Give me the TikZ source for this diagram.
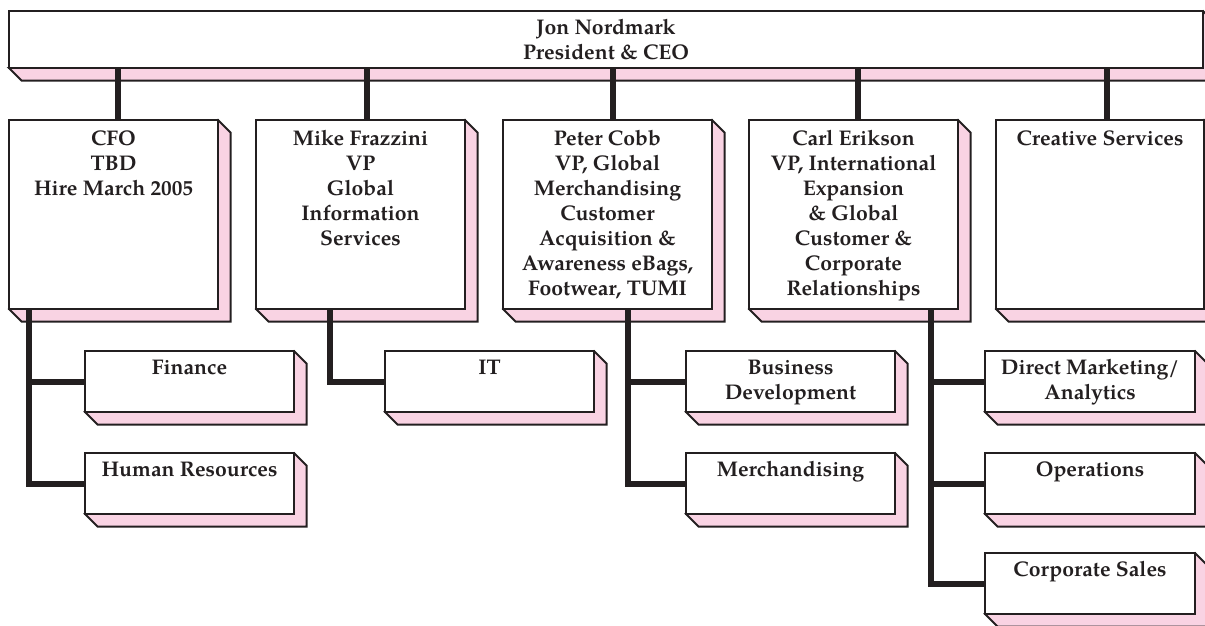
\documentclass[tikz,border=0pt]{standalone}
\usepackage{fontspec}
\setmainfont{texgyrepagella}[Extension=.otf, UprightFont=*-regular, BoldFont=*-bold, ItalicFont=*-italic, BoldItalicFont=*-bolditalic]
\usetikzlibrary{backgrounds,calc}
\definecolor{shpink}{RGB}{249,211,227}
\definecolor{ink}{RGB}{35,31,32}
\tikzset{
  orgbox/.style={draw=ink, fill=white, line width=1.5pt, inner sep=0pt, outer sep=0pt, anchor=north west, rectangle},
  lvtwo/.style={orgbox, minimum width=156.75pt, minimum height=141.75pt},
  lvthree/.style={orgbox, minimum width=156.75pt, minimum height=45.75pt},
  txt/.style={anchor=north, inner sep=0pt, outer sep=0pt, align=center, text=ink, font=\bfseries\fontsize{15.9}{18.75}\selectfont},
  conn/.style={draw=ink, line width=4.5pt, line join=miter},
  shadowpoly/.style={fill=shpink, draw=ink, line width=1.5pt, line join=miter}
}
\newcommand{\fa}{\rule{0pt}{18.75pt}}
\newcommand{\fb}{\rule{0pt}{17.25pt}}
\begin{document}
\begin{tikzpicture}[x=0.75pt,y=-0.75pt]
\useasboundingbox (0,0) rectangle (1205,625);
\clip (0,0) rectangle (1205,625);
% boxes
\node[orgbox, minimum width=895.5pt, minimum height=42.75pt] (top) at (9,11) {};
\node[lvtwo] (cfo) at (9,120) {};
\node[lvtwo] (mike) at (256,120) {};
\node[lvtwo] (peter) at (503,120) {};
\node[lvtwo] (carl) at (749,120) {};
\node[lvtwo, minimum width=156pt] (crea) at (996,120) {};
\node[lvthree] (fin) at (85,351) {};
\node[lvthree] (hr) at (85,453) {};
\node[lvthree] (it) at (385,351) {};
\node[lvthree] (bd) at (686,351) {};
\node[lvthree] (mer) at (686,453) {};
\node[lvthree, minimum width=157.5pt] (dm) at (985,351) {};
\node[lvthree, minimum width=157.5pt] (ops) at (985,453) {};
\node[lvthree, minimum width=157.5pt] (cs) at (985,553) {};
% texts
\node[txt] (topt) at (top.north) {\fb Jon Nordmark\\President \& CEO};
\node[txt] (cfot) at (cfo.north) {\fa CFO\\TBD\\Hire March 2005};
\node[txt] (miket) at (mike.north) {\fa Mike Frazzini\\VP\\Global\\Information\\Services};
\node[txt] (petert) at (peter.north) {\fa Peter Cobb\\VP, Global\\Merchandising\\Customer\\Acquisition \&\\Awareness eBags,\\Footwear, TUMI};
\node[txt] (carlt) at (carl.north) {\fa Carl Erikson\\VP, International\\Expansion\\\& Global\\Customer \&\\Corporate\\Relationships};
\node[txt] (creat) at (crea.north) {\fa Creative Services};
\node[txt] (fint) at (fin.north) {\fb Finance};
\node[txt] (hrt) at (hr.north) {\fb Human Resources};
\node[txt] (itt) at (it.north) {\fb IT};
\node[txt] (bdt) at (bd.north) {\fb Business\\Development};
\node[txt] (mert) at (mer.north) {\fb Merchandising};
\node[txt] (dmt) at (dm.north) {\fb Direct Marketing/\\Analytics};
\node[txt] (opst) at (ops.north) {\fb Operations};
\node[txt] (cst) at (cs.north) {\fb Corporate Sales};
% shadows and connectors
\begin{pgfonlayer}{background}
\foreach \n in {top,cfo,mike,peter,carl,crea,fin,hr,it,bd,mer,dm,ops,cs}{
  \filldraw[shadowpoly] (\n.south west) -- ++(12.5,12.5) -- ($(\n.south east)+(12.5,12.5)$) -- ($(\n.north east)+(12.5,12.5)$) -- (\n.north east) -- cycle;
}
\coordinate (t1) at ($(cfo.north west)+(109,0)$);
\coordinate (t2) at ($(mike.north west)+(111,0)$);
\coordinate (t3) at ($(peter.north west)+(110,0)$);
\coordinate (t4) at ($(carl.north west)+(109,0)$);
\coordinate (t5) at ($(crea.north west)+(111,0)$);
\foreach \c in {t1,t2,t3,t4,t5}{
  \draw[conn] (\c) -- (\c |- top.south);
}
\coordinate (b1) at ($(cfo.south west)+(20,0)$);
\coordinate (b2) at ($(mike.south west)+(74,0)$);
\coordinate (b3) at ($(peter.south west)+(125,0)$);
\coordinate (b4) at ($(carl.south west)+(182,0)$);
\draw[conn] (b1) |- (hr.west);
\draw[conn] (b1 |- fin.west) -- (fin.west);
\draw[conn] (b2) |- (it.west);
\draw[conn] (b3) |- (mer.west);
\draw[conn] (b3 |- bd.west) -- (bd.west);
\draw[conn] (b4) |- (cs.west);
\draw[conn] (b4 |- dm.west) -- (dm.west);
\draw[conn] (b4 |- ops.west) -- (ops.west);
\end{pgfonlayer}
\end{tikzpicture}
\end{document}
